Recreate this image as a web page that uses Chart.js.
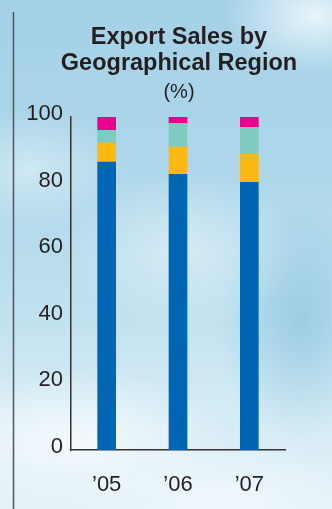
<!DOCTYPE html>
<html>
<head>
<meta charset="utf-8">
<script src="https://cdn.jsdelivr.net/npm/chart.js@4"></script>
<style>
  html, body { margin: 0; padding: 0; }
  body {
    width: 332px; height: 509px; overflow: hidden;
    background:
      radial-gradient(ellipse 90px 60px at 315px 15px, rgba(240,248,252,0.9), rgba(240,248,252,0) 100%),
      radial-gradient(ellipse 160px 70px at 70px 440px, rgba(245,250,253,0.95), rgba(245,250,253,0) 100%),
      radial-gradient(ellipse 150px 60px at 220px 500px, rgba(240,248,252,0.9), rgba(240,248,252,0) 100%),
      radial-gradient(ellipse 120px 80px at 180px 250px, rgba(225,241,248,0.7), rgba(225,241,248,0) 100%),
      radial-gradient(ellipse 80px 120px at 300px 320px, rgba(140,196,222,0.7), rgba(140,196,222,0) 100%),
      radial-gradient(ellipse 100px 60px at 30px 170px, rgba(215,236,246,0.8), rgba(215,236,246,0) 100%),
      linear-gradient(to bottom, #a4d1e7 0%, #aed7ea 35%, #bfe0ef 60%, #d2eaf4 78%, #e4f2f8 100%);
  }
  canvas { display: block; }
</style>
</head>
<body>
<canvas id="c" width="332" height="509"></canvas>
<script>
// Share of export sales by region, per fiscal year (%)
const years = ['\u201905', '\u201906', '\u201907'];
const region1 = [86.5, 82.8, 80.4];
const region2 = [5.7, 8.2, 8.4];
const region3 = [3.8, 7.1, 8.1];
const region4 = [4.0, 1.9, 3.1];
const yTicks = [0, 20, 40, 60, 80, 100];

const seriesColors = ['#0066b3', '#fcb813', '#7fcbbf', '#ec008c'];

// thin rule down the left edge of the panel
const edgeRule = {
  id: 'edgeRule',
  beforeDraw(chart) {
    const ctx = chart.ctx;
    ctx.save();
    ctx.strokeStyle = '#555';
    ctx.lineWidth = 1.5;
    ctx.beginPath();
    ctx.moveTo(13.5, 12);
    ctx.lineTo(13.5, 509);
    ctx.stroke();
    ctx.restore();
  }
};

const font = 'Liberation Sans, Arial, Helvetica, sans-serif';
const ink = '#231f20';

new Chart(document.getElementById('c'), {
  type: 'bar',
  data: {
    labels: years,
    datasets: [
      { label: 'Region 1', data: region1, backgroundColor: seriesColors[0] },
      { label: 'Region 2', data: region2, backgroundColor: seriesColors[1] },
      { label: 'Region 3', data: region3, backgroundColor: seriesColors[2] },
      { label: 'Region 4', data: region4, backgroundColor: seriesColors[3] }
    ]
  },
  options: {
    responsive: false,
    animation: false,
    layout: { padding: { left: 26, right: 0, top: 0, bottom: 0 } },
    datasets: { bar: { barThickness: 18, borderWidth: 0 } },
    plugins: {
      legend: { display: false },
      tooltip: { enabled: false },
      title: {
        display: true,
        text: ['Export Sales by', 'Geographical Region'],
        color: ink,
        font: { family: font, size: 23.5, weight: 'bold', lineHeight: '26px' },
        padding: { top: 25, bottom: 0 }
      },
      subtitle: {
        display: true,
        text: '(%)',
        color: ink,
        font: { family: font, size: 20, weight: 'normal', lineHeight: '22px' },
        padding: { top: 4.5, bottom: 13.5 }
      }
    },
    scales: {
      x: {
        stacked: true,
        grid: { display: false, drawTicks: false },
        border: { display: true, color: '#333', width: 1.5 },
        ticks: { color: ink, font: { family: font, size: 22 }, padding: 22, maxRotation: 0 },
        afterFit(scale) { scale.height = 59; }
      },
      y: {
        stacked: true,
        min: 0,
        max: 100,
        afterBuildTicks(scale) { scale.ticks = yTicks.map(v => ({ value: v })); },
        grid: { display: false, drawTicks: false },
        border: { display: true, color: '#333', width: 1.5 },
        ticks: { color: ink, font: { family: font, size: 22 }, padding: 8, labelOffset: -3 },
        afterFit(scale) { scale.width = 45; }
      },
      // empty right-hand margin beside the plot
      yRight: {
        position: 'right',
        display: true,
        grid: { display: false, drawTicks: false },
        border: { display: false },
        ticks: { display: false },
        afterFit(scale) { scale.width = 47; }
      }
    }
  },
  plugins: [edgeRule]
});
</script>
</body>
</html>
